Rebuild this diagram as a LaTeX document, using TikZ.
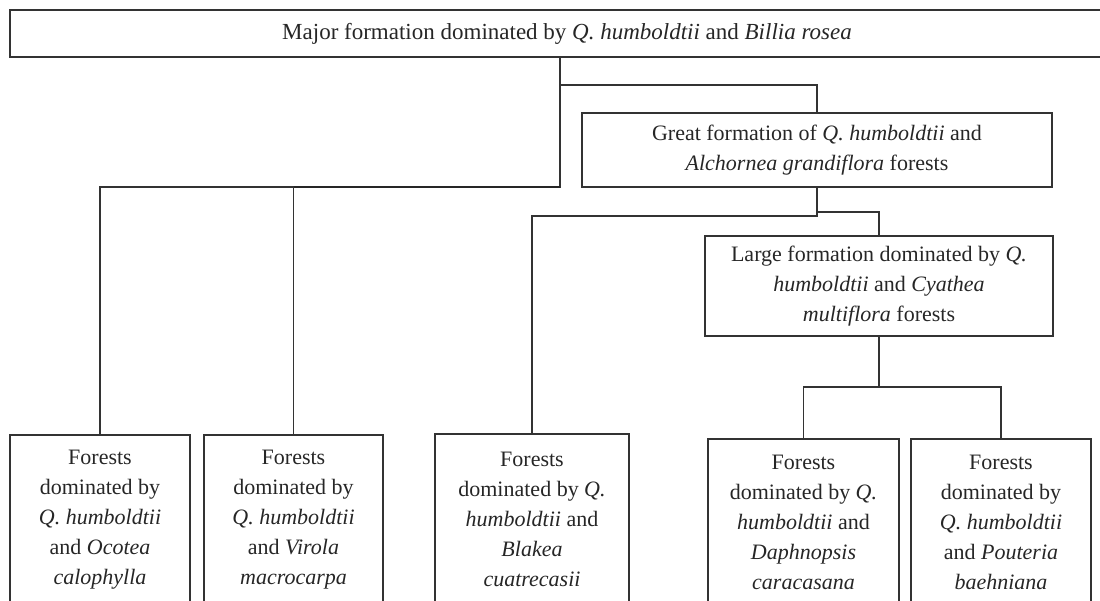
\documentclass[tikz,border=0pt]{standalone}
\usepackage{fontspec}
\setmainfont{Liberation Serif}
\begin{document}
\begin{tikzpicture}[x=1bp,y=-1bp,
  box/.style={draw=black!80, line width=1.3bp, inner sep=0pt, outer sep=0pt,
    align=center, text=black!85, font={\fontsize{22bp}{30bp}\selectfont}},
  conn/.style={draw=black!80, line width=1.3bp},
  connthick/.style={draw=black!85, line width=2.4bp}]
\useasboundingbox (0,0) rectangle (1100,601);
\clip (0,0) rectangle (1100,601);

\node[box, line width=1.8bp, minimum width=1114bp, minimum height=47bp,
  font={\fontsize{23bp}{30bp}\selectfont}] (top) at (567,33.5)
  {Major formation dominated by \textit{Q. humboldtii} and \textit{Billia rosea}};
\node[box, minimum width=470bp, minimum height=74bp] (mid1) at (817,150)
  {Great formation of \textit{Q. humboldtii} and\\\textit{Alchornea grandiflora} forests};
\node[box, minimum width=348bp, minimum height=100bp] (mid2) at (879,286)
  {Large formation dominated by \textit{Q.}\\\textit{humboldtii} and \textit{Cyathea}\\\textit{multiflora} forests};

\node[box, minimum width=180bp, minimum height=170bp] (b1) at (100,520)
  {Forests\\dominated by\\\textit{Q. humboldtii}\\and \textit{Ocotea}\\\textit{calophylla}};
\node[box, minimum width=179bp, minimum height=170bp] (b2) at (293.5,520)
  {Forests\\dominated by\\\textit{Q. humboldtii}\\and \textit{Virola}\\\textit{macrocarpa}};
\node[box, minimum width=194bp, minimum height=171bp] (b3) at (532,519.5)
  {Forests\\dominated by \textit{Q.}\\\textit{humboldtii} and\\\textit{Blakea}\\\textit{cuatrecasii}};
\node[box, minimum width=191bp, minimum height=166bp] (b4) at (803.5,522)
  {Forests\\dominated by \textit{Q.}\\\textit{humboldtii} and\\\textit{Daphnopsis}\\\textit{caracasana}};
\node[box, minimum width=180bp, minimum height=166bp] (b5) at (1001,522)
  {Forests\\dominated by\\\textit{Q. humboldtii}\\and \textit{Pouteria}\\\textit{baehniana}};

\coordinate (j0) at (560,187);
\coordinate (j1) at (560,85);
\coordinate (j2) at (817,216);
\coordinate (j3) at (817,212);
\coordinate (j4) at (879,387);

\draw[conn] (top.south -| j0) -- (j0) -| (b1.north);
\draw[connthick] (j0) -- (j0 -| b2.north);
\draw[conn] (j0 -| b2.north) -- (b2.north);
\draw[conn] (j1) -| (mid1.north);
\draw[conn] (mid1.south) -- (j2) -| (b3.north);
\draw[conn] (j3) -| (mid2.north);
\draw[conn] (mid2.south) -- (j4);
\draw[conn] (b4.north) |- (j4) -| (b5.north);
\end{tikzpicture}
\end{document}
